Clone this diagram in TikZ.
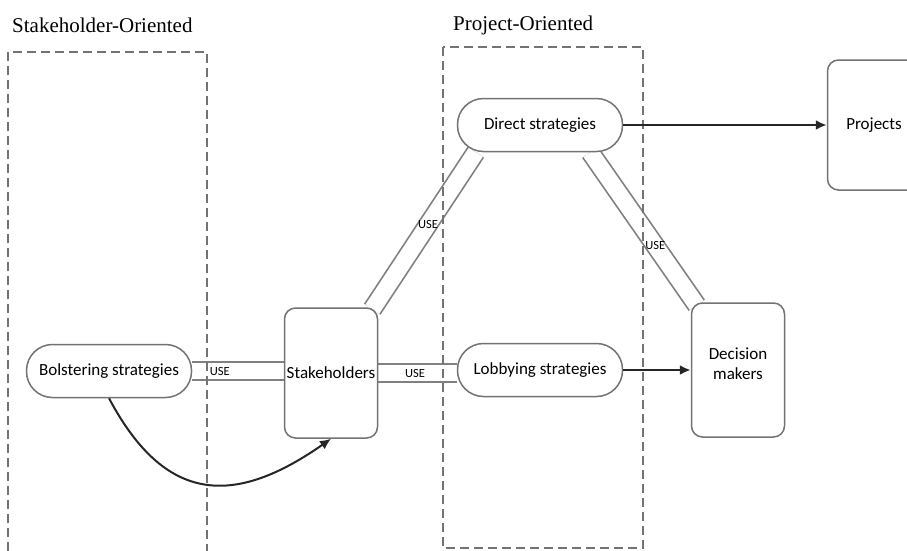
\documentclass[tikz,border=0pt]{standalone}
\usepackage{fontspec}
\setmainfont{Liberation Serif}
\newfontfamily\boxfont{Carlito}
\usetikzlibrary{arrows.meta,calc}
\pgfdeclarelayer{links}
\pgfsetlayers{links,main}
\begin{document}
\begin{tikzpicture}[x=1pt,y=-1pt,
    zone/.style={draw=black!55, line width=1.6pt, dash pattern=on 9pt off 5pt},
    pill/.style={draw=black!55, line width=1.5pt, fill=white, rounded corners=26pt,
      minimum width=165pt, minimum height=53pt, inner sep=0pt, font=\boxfont\fontsize{17}{20}\selectfont},
    box/.style={draw=black!55, line width=1.5pt, fill=white, rounded corners=11pt,
      minimum width=93pt, minimum height=130pt, inner sep=0pt, align=center,
      font=\boxfont\fontsize{17}{20}\selectfont},
    use/.style={draw=black!50, line width=1.7pt, double=white, double distance=16.5pt},
    uselabel/.style={font=\boxfont\fontsize{12.5}{14}\selectfont, inner sep=0pt},
    arr/.style={draw=black!85, line width=2.8pt, -{Latex[length=11pt,width=10pt]}}]
    \useasboundingbox (0,0) rectangle (907,550);
    % headings
    \node[font=\fontsize{21}{24}\selectfont, anchor=west, inner sep=0pt] (stkhead) at (12,25) {Stakeholder-Oriented};
    \node[font=\fontsize{21}{24}\selectfont, anchor=west, inner sep=0pt] (prjhead) at (453,25) {Project-Oriented};
    % zones
    \draw[zone] (8,565) -- (8,52) -- (207,52) -- (207,565);
    \draw[zone] (443,47) rectangle (643,548);
    % nodes
    \node[pill] (bol) at (109,371) {Bolstering strategies};
    \node[box] (stk) at (331,373) {Stakeholders};
    \node[pill] (lob) at (540,370) {Lobbying strategies};
    \node[pill] (dir) at (540,125) {Direct strategies};
    \node[box, minimum height=134pt] (dm) at (738,370) {};
    \node[font=\boxfont\fontsize{17}{20}\selectfont, align=center] (dmtext) at ($(dm.center)+(0,-6)$) {Decision\\makers};
    \node[box] (prj) at (874,125) {Projects};
    % double links, kept under the nodes
    \begin{pgfonlayer}{links}
    \fill[white] (0,0) rectangle (907,550);
    \draw[use] (bol.east) -- (bol.east -| stk.west) node[uselabel, pos=0.3] {USE};
    \draw[use] (stk.east) -- (stk.east -| lob.west) node[uselabel, pos=0.47] {USE};
    \draw[use] ($(stk.north east)+(-6,2)$) -- ($(dir.south west)+(19,0)$) node[uselabel, pos=0.54] {USE};
    \draw[use] ($(dir.south east)+(-33,0)$) -- ($(dm.north west)+(6,3)$) node[uselabel, pos=0.61] {USE};
    \end{pgfonlayer}
    % arrows
    \draw[arr] (dir.east) -- (dir.east -| prj.west);
    \draw[arr] (lob.east) -- (lob.east -| dm.west);
    \draw[arr, line width=2pt] (bol.south) to[out=-62,in=-145,looseness=1.35] (stk.south);
\end{tikzpicture}
\end{document}
